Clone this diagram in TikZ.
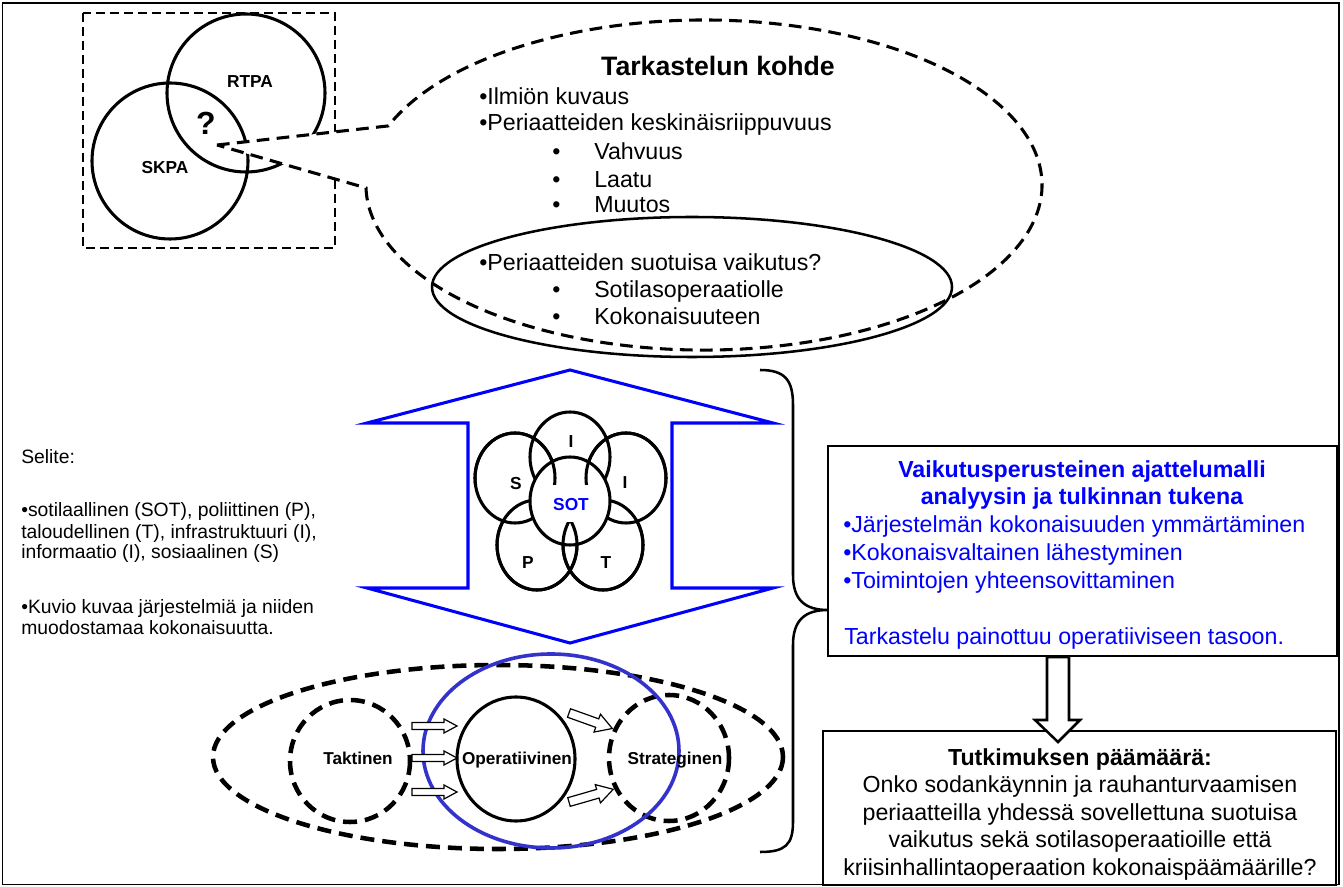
\documentclass[tikz,border=0pt]{standalone}
\usepackage{fontspec}
\setmainfont{Liberation Sans}
\newcommand\myfs[1]{\fontsize{#1}{#1}\selectfont}
\definecolor{pblue}{RGB}{0,0,255}
\definecolor{cblue}{RGB}{51,51,204}
\begin{document}
\begin{tikzpicture}[x=0.75pt,y=0.75pt,yscale=-1,
  txt/.style={inner sep=0pt, font=\myfs{17.4}},
  bodytxt/.style={txt, anchor=base west},
  legtxt/.style={inner sep=0pt, anchor=base west, font=\myfs{14.5}},
  lbl/.style={inner sep=0pt, font=\bfseries\myfs{13}},
  vlbl/.style={inner sep=0pt, font=\bfseries\myfs{13}},
  lvl/.style={inner sep=0pt, anchor=base, font=\bfseries\myfs{12.9}},
  thickline/.style={line width=2.3pt},
  rectdash/.style={line width=2.1pt, dash pattern=on 6.75pt off 3.75pt},
  calldash/.style={line width=2.3pt, dash pattern=on 9.5pt off 5.5pt},
  bigdash/.style={line width=3.4pt, dash pattern=on 10.5pt off 6pt},
  arrowbox/.style={draw, fill=white, line width=0.9pt, line join=miter},
  boxstyle/.style={draw, inner sep=0pt, fill=none}]
\useasboundingbox (0,0) rectangle (1343,887);

% outer frame
\draw[line width=1.1pt] (2.5,3) rectangle (1339,884.5);

% ---- top-left Venn ----
\draw[rectdash] (83,13) rectangle (335,248);
\draw[thickline] (170,161) circle[radius=78];
\draw[thickline] (246,93) circle[radius=79];
\node[lbl] (rtpa) at (250,82) {RTPA};
\node[lbl] (skpa) at (165,168) {SKPA};
\node[inner sep=0pt, font=\bfseries\myfs{24}] (q) at (206,123) {?};

% ---- callout ----
\coordinate (tail) at (217,145);
\draw[calldash, fill=white] (tail) -- (388.4,125.9)
  arc[start angle=201, end angle=539, x radius=338, y radius=165] -- cycle;
\draw[line width=1.9pt] (692,287) ellipse[x radius=260, y radius=70];

\node[txt, anchor=base, font=\bfseries\myfs{20}] (title) at (718,76) {Tarkastelun kohde};
\node[bodytxt] (c1) at (479,105) {•Ilmiön kuvaus};
\node[bodytxt] (c2) at (479,131) {•Periaatteiden keskinäisriippuvuus};
\node[bodytxt] (c3) at (552,160) {\makebox[31.5pt][l]{•}Vahvuus};
\node[bodytxt] (c4) at (552,188) {\makebox[31.5pt][l]{•}Laatu};
\node[bodytxt] (c5) at (552,213) {\makebox[31.5pt][l]{•}Muutos};
\node[bodytxt] (c6) at (479,271) {•Periaatteiden suotuisa vaikutus?};
\node[bodytxt] (c7) at (552,298) {\makebox[31.5pt][l]{•}Sotilasoperaatiolle};
\node[bodytxt] (c8) at (552,325) {\makebox[31.5pt][l]{•}Kokonaisuuteen};

% ---- blue double arrow ----
\draw[pblue, line width=2.3pt, line join=miter]
  (570,370) -- (773,423) -- (672,423) -- (672,588) -- (773,588) -- (570,643)
  -- (367,588) -- (468,588) -- (468,423) -- (367,423) -- cycle;

% ---- six-circle Venn ----
\begin{scope}[thickline]
  \draw (570,457) ellipse[x radius=40, y radius=45];
  \draw (515,478) ellipse[x radius=40, y radius=45];
  \draw (626,478) ellipse[x radius=40, y radius=45];
  \draw (537,545) ellipse[x radius=40, y radius=45];
  \draw (603,545) ellipse[x radius=40, y radius=45];
  \draw[fill=white] (570,501) ellipse[x radius=40, y radius=44];
  \begin{scope}
    \clip (450,380) rectangle (700,485);
    \draw (515,478) ellipse[x radius=40, y radius=45];
    \draw (626,478) ellipse[x radius=40, y radius=45];
  \end{scope}
  \begin{scope}
    \clip (450,523) rectangle (700,620);
    \draw (537,545) ellipse[x radius=40, y radius=45];
    \draw (603,545) ellipse[x radius=40, y radius=45];
  \end{scope}
\end{scope}
\node[vlbl] (vi1) at (571,442) {I};
\node[vlbl] (vs) at (516,484) {S};
\node[vlbl] (vi2) at (625,483) {I};
\node[vlbl, text=pblue] (vsot) at (571,505) {SOT};
\node[vlbl] (vp) at (528,563) {P};
\node[vlbl] (vt) at (606,563) {T};

% ---- legend ----
\node[legtxt] (l1) at (21,464) {Selite:};
\node[legtxt] (l2) at (21,517) {•sotilaallinen (SOT), poliittinen (P),};
\node[legtxt] (l3) at (21,539) {taloudellinen (T), infrastruktuuri (I),};
\node[legtxt] (l4) at (21,559) {informaatio (I), sosiaalinen (S)};
\node[legtxt] (l5) at (21,614) {•Kuvio kuvaa järjestelmiä ja niiden};
\node[legtxt] (l6) at (21,634) {muodostamaa kokonaisuutta.};

% ---- levels ----
\draw[bigdash] (498,757) ellipse[x radius=285, y radius=92];
\draw[bigdash] (350,761) ellipse[x radius=60, y radius=61];
\draw[bigdash] (669,758) ellipse[x radius=60, y radius=63];
\draw[thickline] (516,759) ellipse[x radius=59, y radius=62];
\draw[cblue, line width=2.7pt] (551,751) ellipse[x radius=128, y radius=97];

\foreach \yy in {726,758,792}{
  \begin{scope}[shift={(412,\yy)}]
    \draw[arrowbox] (0,-3.5) -- (32,-3.5) -- (32,-7) -- (45,0) -- (32,7) -- (32,3.5) -- (0,3.5) -- cycle;
  \end{scope}
}
\begin{scope}[shift={(569,713)}, rotate=19.7]
  \draw[arrowbox] (0,-4.5) -- (30,-4.5) -- (30,-9.5) -- (46,0) -- (30,9.5) -- (30,4.5) -- (0,4.5) -- cycle;
\end{scope}
\begin{scope}[shift={(569,802)}, rotate=-16]
  \draw[arrowbox] (0,-4.5) -- (30,-4.5) -- (30,-9.5) -- (46,0) -- (30,9.5) -- (30,4.5) -- (0,4.5) -- cycle;
\end{scope}

\node[lvl] (tak) at (358,764) {Taktinen};
\node[lvl] (ope) at (517,764) {Operatiivinen};
\node[lvl] (str) at (675,764) {Strateginen};

% ---- boxes ----
\node[boxstyle, line width=1.5pt, minimum width=381.75pt, minimum height=157.5pt] (box1) at (1082.5,551) {};
\node[boxstyle, line width=1.2pt, minimum width=384.75pt, minimum height=115.5pt] (box2) at (1079.5,808) {};

% brace
\coordinate (btip) at (828,610);
\draw[line width=1.9pt] (760,370) .. controls (785,370) and (793,380) .. (793,405)
  -- (793,575) .. controls (793,600) and (805,610) .. (btip)
  .. controls (805,610) and (793,620) .. (793,645)
  -- (793,822) .. controls (793,845) and (785,852) .. (760,852);

\node[txt, anchor=base, text=pblue, font=\bfseries\myfs{17.4}] (v1) at (1082,478) {Vaikutusperusteinen ajattelumalli};
\node[txt, anchor=base, text=pblue, font=\bfseries\myfs{17.4}] (v2) at (1082,505) {analyysin ja tulkinnan tukena};
\node[bodytxt, text=pblue] (v3) at (843,533) {•Järjestelmän kokonaisuuden ymmärtäminen};
\node[bodytxt, text=pblue] (v4) at (843,561) {•Kokonaisvaltainen lähestyminen};
\node[bodytxt, text=pblue] (v5) at (843,589) {•Toimintojen yhteensovittaminen};
\node[bodytxt, text=pblue] (v6) at (844,645) {Tarkastelu painottuu operatiiviseen tasoon.};

\node[txt, anchor=base, font=\bfseries\myfs{17.4}] (t1) at (1080,765) {Tutkimuksen päämäärä:};
\node[txt, anchor=base] (t2) at (1080,792) {Onko sodankäynnin ja rauhanturvaamisen};
\node[txt, anchor=base] (t3) at (1080,820) {periaatteilla yhdessä sovellettuna suotuisa};
\node[txt, anchor=base] (t4) at (1080,847) {vaikutus sekä sotilasoperaatioille että};
\node[txt, anchor=base] (t5) at (1080,875) {kriisinhallintaoperaation kokonaispäämäärille?};

% down arrow box1 -> box2
\draw[fill=white, line width=1.9pt, line join=miter]
  (box1.south -| 1047,0) -- (box1.south -| 1069,0) -- (1069,720) -- (1080,720)
  -- (1058,742) -- (1035,720) -- (1047,720) -- cycle;
\end{tikzpicture}
\end{document}
